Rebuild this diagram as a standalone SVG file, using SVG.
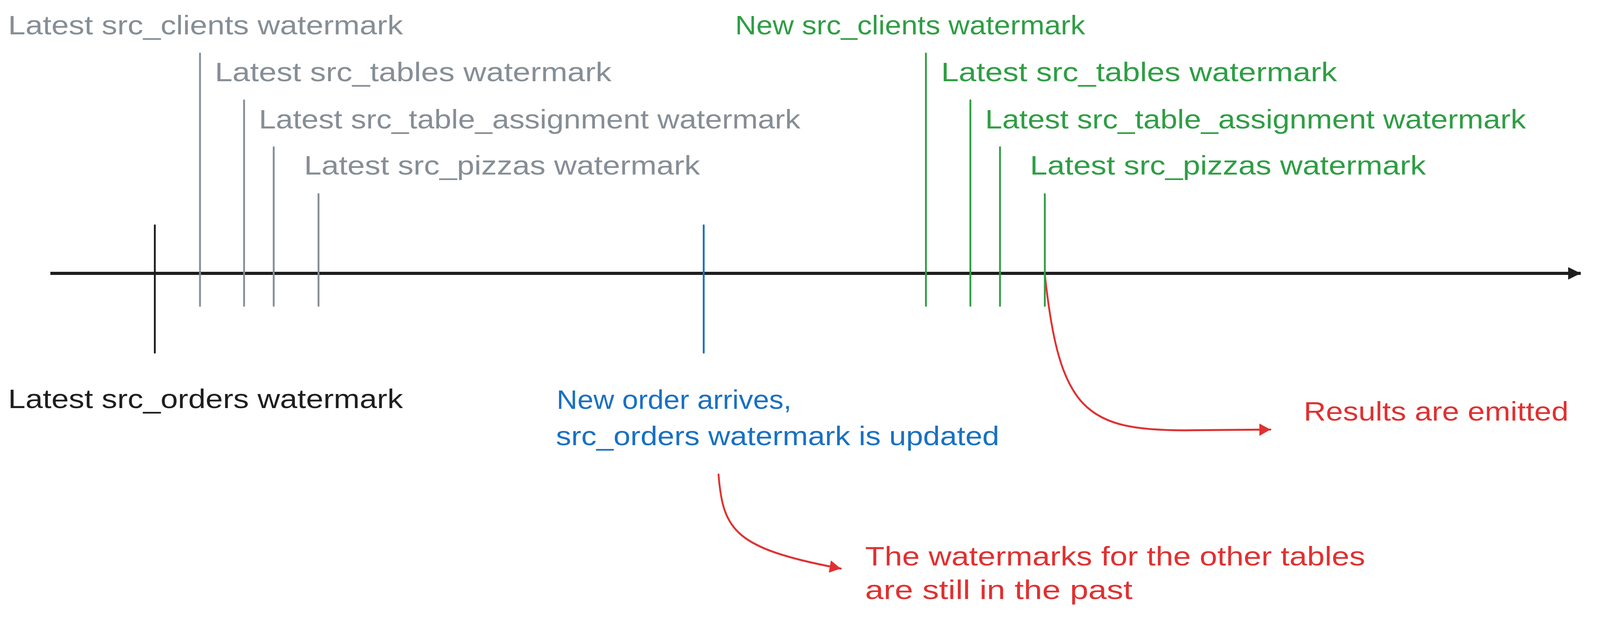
<svg xmlns="http://www.w3.org/2000/svg" width="4320" height="1580" viewBox="0 0 4320 1580" preserveAspectRatio="none" style="width:100%;height:100%">
  <style>
    text { font-family: "Liberation Sans", Arial, sans-serif; font-size: 68px; }
    .gray { fill: #868e96; }
    .green { fill: #2f9e44; }
    .blue { fill: #1971c2; }
    .red { fill: #e03131; }
    .black { fill: #1e1e1e; }
    .tick { stroke-width: 5; fill: none; stroke-linecap: round; }
    .tg { stroke: #868e96; }
    .tgr { stroke: #2f9e44; }
    .tb { stroke: #1971c2; }
    .tk { stroke: #1e1e1e; }
    .curve { stroke: #e03131; stroke-width: 5; fill: none; stroke-linecap: round; }
  </style>
  <defs>
    <marker id="axisHead" markerUnits="userSpaceOnUse" markerWidth="40" markerHeight="40" refX="34" refY="18" orient="auto">
      <path d="M0 2 L34 18 L0 34 Z" fill="#1e1e1e"/>
    </marker>
    <marker id="redHead" markerUnits="userSpaceOnUse" markerWidth="40" markerHeight="40" refX="30" refY="18" orient="auto">
      <path d="M0 2 L30 18 L0 34 Z" fill="#e03131"/>
    </marker>
  </defs>
  <rect width="4320" height="1580" fill="#ffffff"/>

  <g id="connectors">
    <line id="timeline" x1="136" y1="700" x2="4268" y2="700" stroke="#1e1e1e" stroke-width="8" marker-end="url(#axisHead)"/>
    <path id="arrow-results" class="curve" d="M2821 702 C 2860 1050, 2930 1102, 3200 1102 L 3430 1100" marker-end="url(#redHead)"/>
    <path id="arrow-past" class="curve" d="M1940 1215 C 1952 1360, 1985 1405, 2270 1456" marker-end="url(#redHead)"/>
  </g>

  <g id="orders-watermark">
    <line class="tick tk" x1="418" y1="577" x2="418" y2="903"/>
    <text class="black" x="22" y="1045" textLength="1066" lengthAdjust="spacingAndGlyphs">Latest src_orders watermark</text>
  </g>

  <g id="old-clients">
    <line class="tick tg" x1="540" y1="137" x2="540" y2="783"/>
    <text class="gray" x="22" y="88" textLength="1066" lengthAdjust="spacingAndGlyphs">Latest src_clients watermark</text>
  </g>
  <g id="old-tables">
    <line class="tick tg" x1="659" y1="257" x2="659" y2="783"/>
    <text class="gray" x="580" y="208" textLength="1071" lengthAdjust="spacingAndGlyphs">Latest src_tables watermark</text>
  </g>
  <g id="old-table-assignment">
    <line class="tick tg" x1="739" y1="377" x2="739" y2="783"/>
    <text class="gray" x="699" y="329" textLength="1462" lengthAdjust="spacingAndGlyphs">Latest src_table_assignment watermark</text>
  </g>
  <g id="old-pizzas">
    <line class="tick tg" x1="860" y1="497" x2="860" y2="783"/>
    <text class="gray" x="821" y="447" textLength="1069" lengthAdjust="spacingAndGlyphs">Latest src_pizzas watermark</text>
  </g>

  <g id="new-order">
    <line class="tick tb" x1="1900" y1="577" x2="1900" y2="903"/>
    <text class="blue" x="1503" y="1047" textLength="634" lengthAdjust="spacingAndGlyphs">New order arrives,</text>
    <text class="blue" x="1501" y="1140" textLength="1197" lengthAdjust="spacingAndGlyphs">src_orders watermark is updated</text>
  </g>

  <g id="new-clients">
    <line class="tick tgr" x1="2500" y1="137" x2="2500" y2="783"/>
    <text class="green" x="1985" y="88" textLength="945" lengthAdjust="spacingAndGlyphs">New src_clients watermark</text>
  </g>
  <g id="new-tables">
    <line class="tick tgr" x1="2620" y1="257" x2="2620" y2="783"/>
    <text class="green" x="2541" y="208" textLength="1069" lengthAdjust="spacingAndGlyphs">Latest src_tables watermark</text>
  </g>
  <g id="new-table-assignment">
    <line class="tick tgr" x1="2700" y1="377" x2="2700" y2="783"/>
    <text class="green" x="2660" y="329" textLength="1460" lengthAdjust="spacingAndGlyphs">Latest src_table_assignment watermark</text>
  </g>
  <g id="new-pizzas">
    <line class="tick tgr" x1="2821" y1="497" x2="2821" y2="783"/>
    <text class="green" x="2781" y="447" textLength="1069" lengthAdjust="spacingAndGlyphs">Latest src_pizzas watermark</text>
  </g>

  <g id="results-note">
    <text class="red" x="3520" y="1077" textLength="715" lengthAdjust="spacingAndGlyphs">Results are emitted</text>
  </g>
  <g id="past-note">
    <text class="red" x="2336" y="1448" textLength="1350" lengthAdjust="spacingAndGlyphs">The watermarks for the other tables</text>
    <text class="red" x="2336" y="1534" textLength="722" lengthAdjust="spacingAndGlyphs">are still in the past</text>
  </g>
</svg>
